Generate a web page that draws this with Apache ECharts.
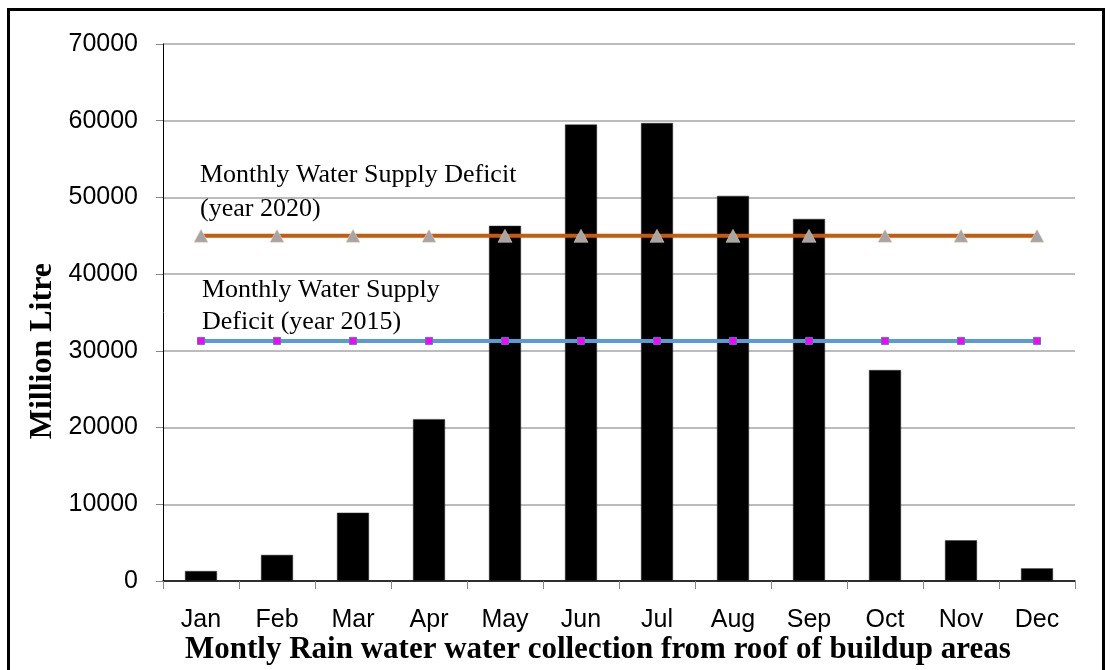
<!DOCTYPE html>
<html>
<head>
<meta charset="utf-8">
<script src="https://cdn.jsdelivr.net/npm/echarts@6/dist/echarts.min.js"></script>
<style>
  html, body { margin: 0; padding: 0; background: #fff; }
  #chart { width: 1112px; height: 670px; }
</style>
</head>
<body>
<div id="chart"></div>
<script>
// Monthly rain water collection vs. monthly supply deficit (million litre)
const months = ['Jan', 'Feb', 'Mar', 'Apr', 'May', 'Jun', 'Jul', 'Aug', 'Sep', 'Oct', 'Nov', 'Dec'];
const rainCollection = [1300, 3400, 8900, 21100, 46300, 59500, 59700, 50200, 47200, 27500, 5300, 1650];
const deficit2020 = [45000, 45000, 45000, 45000, 45000, 45000, 45000, 45000, 45000, 45000, 45000, 45000];
const deficit2015 = [31300, 31300, 31300, 31300, 31300, 31300, 31300, 31300, 31300, 31300, 31300, 31300];
const yTicks = { min: 0, max: 70000, interval: 10000 };

const serif = '"Liberation Serif", "Times New Roman", serif';
const sans = '"Liberation Sans", Arial, sans-serif';

const chart = echarts.init(document.getElementById('chart'), null, { renderer: 'canvas' });

chart.setOption({
  animation: false,
  backgroundColor: '#ffffff',
  grid: { left: 163, right: 37, top: 44, bottom: 89 },
  xAxis: {
    type: 'category',
    data: months,
    boundaryGap: true,
    axisLine: { lineStyle: { color: '#000', width: 1.5 } },
    axisTick: { show: true, length: 8, lineStyle: { color: '#888', width: 1 } },
    axisLabel: { color: '#000', fontFamily: sans, fontSize: 25, margin: 27 }
  },
  yAxis: {
    type: 'value',
    min: yTicks.min,
    max: yTicks.max,
    interval: yTicks.interval,
    axisLine: { show: true, lineStyle: { color: '#000', width: 1 } },
    axisTick: { show: true, length: 7, lineStyle: { color: '#888' } },
    axisLabel: {
      color: '#000', fontFamily: sans, fontSize: 25, margin: 25,
      formatter: v => String(v)
    },
    splitLine: { show: true, lineStyle: { color: '#a6a6a6', width: 1.5 } }
  },
  series: [
    {
      name: 'Rain water collection',
      type: 'bar',
      data: rainCollection,
      barWidth: 32,
      itemStyle: { color: '#000', borderColor: '#333', borderWidth: 0.5 },
      z: 2
    },
    {
      name: 'Monthly Water Supply Deficit (year 2020)',
      type: 'line',
      data: deficit2020,
      symbol: 'triangle',
      symbolSize: [14, 13],
      lineStyle: { color: '#c55a11', width: 4 },
      itemStyle: { color: '#a5a5a5', borderColor: '#f4d3bd', borderWidth: 0.5 },
      z: 3
    },
    {
      name: 'Monthly Water Supply Deficit (year 2015)',
      type: 'line',
      data: deficit2015,
      symbol: 'rect',
      symbolSize: 7,
      lineStyle: { color: '#5b9bd5', width: 4 },
      itemStyle: { color: '#ff00ff', borderColor: '#4a7ebb', borderWidth: 1 },
      z: 3
    }
  ],
  graphic: [
    {
      type: 'rect',
      shape: { x: 8.5, y: 9.5, width: 1095, height: 670 },
      style: { fill: 'none', stroke: '#000', lineWidth: 3 },
      silent: true
    },
    {
      type: 'text',
      left: 27, top: 263,
      rotation: Math.PI / 2,
      style: {
        text: 'Million Litre',
        font: 'bold 32px ' + serif,
        fill: '#000',
        textAlign: 'center',
        textVerticalAlign: 'middle'
      }
    },
    {
      type: 'text',
      left: 185, top: 634,
      style: {
        text: 'Montly Rain water water collection from roof of buildup areas',
        font: 'bold 31px ' + serif,
        fill: '#000'
      }
    },
    {
      type: 'text',
      left: 200, top: 158,
      style: {
        text: 'Monthly Water Supply Deficit\n(year 2020)',
        font: '26px ' + serif,
        fill: '#000',
        lineHeight: 34
      },
      z: 10
    },
    {
      type: 'text',
      left: 202, top: 274,
      style: {
        text: 'Monthly Water Supply\nDeficit (year 2015)',
        font: '26px ' + serif,
        fill: '#000',
        lineHeight: 32
      },
      z: 10
    }
  ]
});
</script>
</body>
</html>
